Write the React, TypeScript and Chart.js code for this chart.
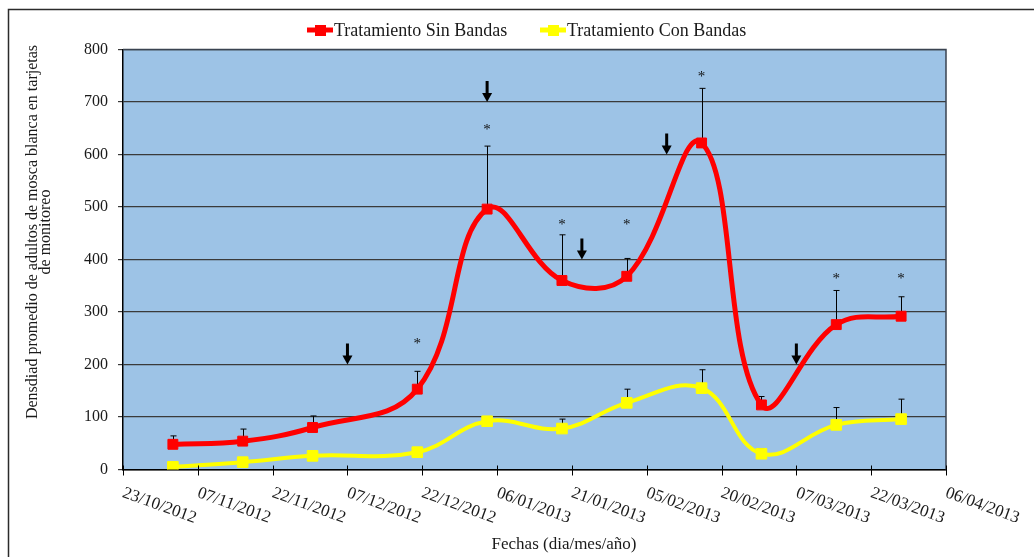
import React, { useEffect, useRef } from 'react';
import { Chart, registerables } from 'chart.js';

Chart.register(...registerables);

// ---- Data ----
const pointDates = ['2012-11-02', '2012-11-16', '2012-11-30', '2012-12-21', '2013-01-04', '2013-01-19', '2013-02-01', '2013-02-16', '2013-02-28', '2013-03-15', '2013-03-28'];
const sinBandas = [48, 54, 80, 153, 496, 360, 368, 622, 123, 276, 292];
const sinBandasErrTop = [64, 77, 102, 187, 616, 447, 402, 726, 139, 341, 329];
const conBandas = [5, 14, 26, 33, 92, 78, 127, 155, 30, 85, 96];
const conBandasErrTop = [8, 18, 30, 37, 98, 96, 153, 190, 40, 118, 134];
const asteriskIndex = [3, 4, 5, 6, 7, 9, 10];
const asteriskValues = [245, 653, 472, 472, 753, 369, 369];
const arrowDates = ['2012-12-07', '2013-01-04', '2013-01-23', '2013-02-09', '2013-03-07'];
const arrowValues = [200, 700, 400, 600, 200];
const tickLabels = ['23/10/2012', '07/11/2012', '22/11/2012', '07/12/2012', '22/12/2012', '06/01/2013', '21/01/2013', '05/02/2013', '20/02/2013', '07/03/2013', '22/03/2013', '06/04/2013'];
const seriesLabels = ['Tratamiento Sin Bandas', 'Tratamiento Con Bandas'];
const seriesColors = ['#FF0000', '#FFFF00'];
const yTitleLines = ['Densdiad promedio de adultos de mosca blanca en tarjetas', 'de monitoreo'];
const xTitle = 'Fechas (dia/mes/año)';

const ORIGIN = Date.UTC(2012, 9, 23);
const dayOfIso = (iso: string) => {
  const [y, m, d] = iso.split('-').map(Number);
  return (Date.UTC(y, m - 1, d) - ORIGIN) / 86400000;
};
const dayOfLabel = (s: string) => {
  const [d, m, y] = s.split('/').map(Number);
  return (Date.UTC(y, m - 1, d) - ORIGIN) / 86400000;
};

const SERIF = '"Liberation Serif", "Times New Roman", serif';

const decorPlugin = {
  id: 'decor',
  beforeDraw(chart: any) {
    const { ctx, chartArea: a } = chart;
    ctx.save();
    ctx.fillStyle = '#ffffff';
    ctx.fillRect(0, 0, chart.width, chart.height);
    // outer frame
    ctx.strokeStyle = '#2b2b2b';
    ctx.lineWidth = 1.5;
    ctx.beginPath();
    ctx.moveTo(8.5, chart.height);
    ctx.lineTo(8.5, 9.5);
    ctx.lineTo(chart.width, 9.5);
    ctx.stroke();
    // plot background
    ctx.fillStyle = '#9DC3E6';
    ctx.fillRect(a.left, a.top, a.right - a.left, a.bottom - a.top);
    ctx.restore();
  },
  beforeDatasetsDraw(chart: any) {
    const { ctx, scales } = chart;
    const xs = scales.x, ys = scales.y;
    ctx.save();
    ctx.strokeStyle = '#000';
    ctx.lineWidth = 1;
    const drawErr = (vals: number[], tops: number[]) => {
      pointDates.forEach((d, i) => {
        const px = Math.round(xs.getPixelForValue(dayOfIso(d))) + 0.5;
        const py = ys.getPixelForValue(vals[i]);
        const pt = ys.getPixelForValue(tops[i]);
        ctx.beginPath();
        ctx.moveTo(px, py);
        ctx.lineTo(px, pt);
        ctx.moveTo(px - 3, pt);
        ctx.lineTo(px + 3, pt);
        ctx.stroke();
      });
    };
    drawErr(sinBandas, sinBandasErrTop);
    drawErr(conBandas, conBandasErrTop);
    ctx.restore();
  },
  afterDraw(chart: any) {
    const { ctx, scales, chartArea: a } = chart;
    const xs = scales.x, ys = scales.y;
    ctx.save();
    // plot border top/right
    ctx.strokeStyle = '#3a4350';
    ctx.lineWidth = 1.5;
    ctx.beginPath();
    ctx.moveTo(a.left, a.top);
    ctx.lineTo(a.right, a.top);
    ctx.lineTo(a.right, a.bottom);
    ctx.stroke();

    // x tick marks (cross)
    ctx.strokeStyle = '#000';
    ctx.lineWidth = 1;
    tickLabels.forEach((t) => {
      const px = Math.round(xs.getPixelForValue(dayOfLabel(t))) + 0.5;
      ctx.beginPath();
      ctx.moveTo(px, a.bottom - 4);
      ctx.lineTo(px, a.bottom + 6);
      ctx.stroke();
    });

    // x tick labels rotated
    ctx.fillStyle = '#1a1a1a';
    ctx.font = '17px ' + SERIF;
    ctx.textAlign = 'left';
    ctx.textBaseline = 'top';
    tickLabels.forEach((t) => {
      const px = xs.getPixelForValue(dayOfLabel(t));
      ctx.save();
      ctx.translate(px + 3, a.bottom + 15);
      ctx.rotate((20 * Math.PI) / 180);
      ctx.fillText(t, 0, 0);
      ctx.restore();
    });

    // asterisks
    ctx.font = '15px ' + SERIF;
    ctx.textAlign = 'center';
    ctx.textBaseline = 'middle';
    ctx.fillStyle = '#111';
    asteriskIndex.forEach((idx, k) => {
      const px = xs.getPixelForValue(dayOfIso(pointDates[idx]));
      const py = ys.getPixelForValue(asteriskValues[k]);
      ctx.fillText('*', px, py + 3);
    });

    // arrows
    ctx.fillStyle = '#000';
    arrowDates.forEach((d, k) => {
      const px = xs.getPixelForValue(dayOfIso(d));
      const tip = ys.getPixelForValue(arrowValues[k]);
      ctx.fillRect(px - 1.5, tip - 21, 3, 13);
      ctx.beginPath();
      ctx.moveTo(px - 5, tip - 9);
      ctx.lineTo(px + 5, tip - 9);
      ctx.lineTo(px, tip);
      ctx.closePath();
      ctx.fill();
    });

    // axis titles
    ctx.fillStyle = '#1a1a1a';
    ctx.font = '16px ' + SERIF;
    ctx.textAlign = 'center';
    ctx.textBaseline = 'alphabetic';
    ctx.save();
    ctx.translate(37, 232);
    ctx.rotate(-Math.PI / 2);
    ctx.fillText(yTitleLines[0], 0, 0);
    ctx.fillText(yTitleLines[1], 0, 13);
    ctx.restore();

    ctx.font = '17px ' + SERIF;
    ctx.fillText(xTitle, 564, 549);

    // legend
    const legendX = [307, 540];
    ctx.font = '18px ' + SERIF;
    ctx.textAlign = 'left';
    ctx.textBaseline = 'middle';
    seriesLabels.forEach((lab, i) => {
      const x0 = legendX[i];
      ctx.strokeStyle = seriesColors[i];
      ctx.lineWidth = 5;
      ctx.beginPath();
      ctx.moveTo(x0, 30);
      ctx.lineTo(x0 + 26, 30);
      ctx.stroke();
      ctx.fillStyle = seriesColors[i];
      ctx.fillRect(x0 + 8, 25, 11, 11);
      ctx.fillStyle = '#1a1a1a';
      ctx.fillText(lab, x0 + 27, 31);
    });
    ctx.restore();
  },
};

export default function App() {
  const ref = useRef<HTMLCanvasElement | null>(null);
  useEffect(() => {
    if (!ref.current) return;
    const chart = new Chart(ref.current, {
      type: 'line',
      data: {
        datasets: [
          {
            label: seriesLabels[0],
            data: pointDates.map((d, i) => ({ x: dayOfIso(d), y: sinBandas[i] })),
            borderColor: seriesColors[0],
            backgroundColor: seriesColors[0],
            borderWidth: 5,
            pointStyle: 'rect',
            pointRadius: 7,
            pointBorderWidth: 1,
            pointBorderColor: seriesColors[0],
            pointBackgroundColor: seriesColors[0],
            tension: 0.4,
            fill: false,
          },
          {
            label: seriesLabels[1],
            data: pointDates.map((d, i) => ({ x: dayOfIso(d), y: conBandas[i] })),
            borderColor: seriesColors[1],
            backgroundColor: seriesColors[1],
            borderWidth: 4,
            pointStyle: 'rect',
            pointRadius: 7.5,
            pointBorderWidth: 1,
            pointBorderColor: seriesColors[1],
            pointBackgroundColor: seriesColors[1],
            tension: 0.4,
            fill: false,
          },
        ],
      },
      options: {
        responsive: false,
        animation: false,
        events: [],
        layout: { padding: { left: 0, top: 49.5, right: 88, bottom: 0 } },
        plugins: { legend: { display: false }, tooltip: { enabled: false } },
        scales: {
          x: {
            type: 'linear',
            min: 0,
            max: dayOfLabel(tickLabels[tickLabels.length - 1]),
            ticks: { display: false },
            grid: { display: false },
            border: { display: true, color: '#000', width: 1.5 },
            afterFit: (s: any) => { s.height = 87.5; },
          },
          y: {
            min: 0,
            max: 800,
            ticks: {
              stepSize: 100,
              color: '#1a1a1a',
              font: { family: SERIF, size: 16 },
              padding: 10,
            },
            grid: { color: '#3a3a3a', lineWidth: 1.2, tickLength: 5, drawTicks: true },
            border: { display: true, color: '#000', width: 1.5 },
            afterFit: (s: any) => { s.width = 123; },
          },
        },
      },
      plugins: [decorPlugin],
    });
    return () => chart.destroy();
  }, []);
  return (
    <div style={{ position: 'fixed', left: 0, top: 0, width: 1034, height: 557, background: '#fff' }}>
      <canvas ref={ref} width={1034} height={557} style={{ display: 'block' }} />
    </div>
  );
}
